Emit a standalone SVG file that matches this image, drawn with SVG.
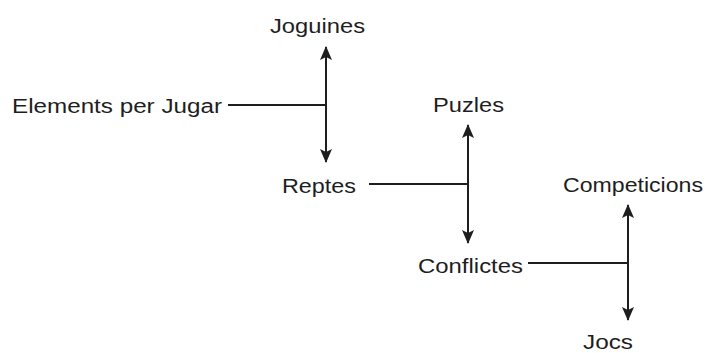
<svg xmlns="http://www.w3.org/2000/svg" width="711" height="353" viewBox="0 0 711 353">
<style>
text{font-family:"Liberation Sans",Arial,sans-serif;font-size:20px;fill:#1e1e1e}
.c line{stroke:#1e1e1e;stroke-width:2;fill:none}
</style>
<defs>
<marker id="ah" viewBox="0 0 14 14" refX="13" refY="7" markerWidth="14" markerHeight="14" markerUnits="userSpaceOnUse" orient="auto-start-reverse">
<path d="M0,1 L14,7 L0,13 L3,7 Z" fill="#1e1e1e"/>
</marker>
</defs>
<rect width="711" height="353" fill="#fff"/>
<g id="n-elements"><text x="12" y="113" textLength="210" lengthAdjust="spacingAndGlyphs">Elements per Jugar</text></g>
<g id="n-joguines"><text x="270" y="33" textLength="95" lengthAdjust="spacingAndGlyphs">Joguines</text></g>
<g id="n-reptes"><text x="282" y="193" textLength="74" lengthAdjust="spacingAndGlyphs">Reptes</text></g>
<g id="n-puzles"><text x="433" y="112" textLength="71" lengthAdjust="spacingAndGlyphs">Puzles</text></g>
<g id="n-conflictes"><text x="418" y="273" textLength="105" lengthAdjust="spacingAndGlyphs">Conflictes</text></g>
<g id="n-competicions"><text x="563" y="192" textLength="140" lengthAdjust="spacingAndGlyphs">Competicions</text></g>
<g id="n-jocs"><text x="583" y="349" textLength="50" lengthAdjust="spacingAndGlyphs">Jocs</text></g>
<g id="connectors" class="c">
<line x1="228" y1="105" x2="326" y2="105"/>
<line x1="326" y1="105" x2="326" y2="47" marker-end="url(#ah)"/>
<line x1="326" y1="105" x2="326" y2="162" marker-end="url(#ah)"/>
<line x1="369" y1="184" x2="468" y2="184"/>
<line x1="468" y1="184" x2="468" y2="125" marker-end="url(#ah)"/>
<line x1="468" y1="184" x2="468" y2="243" marker-end="url(#ah)"/>
<line x1="528" y1="263" x2="628" y2="263"/>
<line x1="628" y1="263" x2="628" y2="205" marker-end="url(#ah)"/>
<line x1="628" y1="263" x2="628" y2="320" marker-end="url(#ah)"/>
</g>
</svg>
